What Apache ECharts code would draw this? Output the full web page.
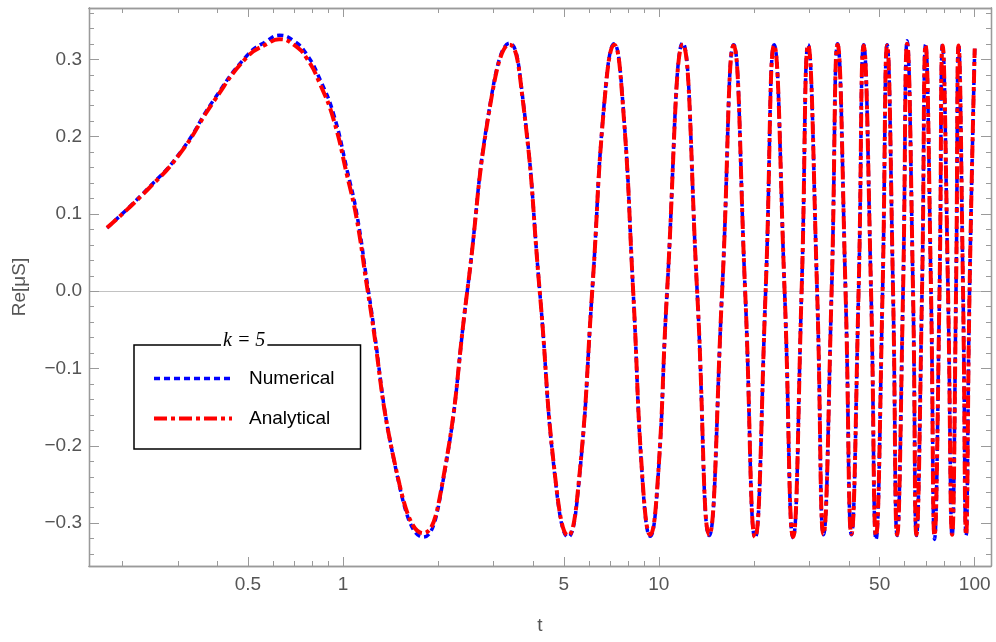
<!DOCTYPE html>
<html>
<head>
<meta charset="utf-8">
<script src="https://cdn.jsdelivr.net/npm/echarts@6/dist/echarts.min.js"></script>
<style>
html, body { margin: 0; padding: 0; background: #fff; }
#chart { width: 996px; height: 642px; }
</style>
</head>
<body>
<div id="chart"></div>
<script>
// values (t on a log axis)
var tValues = [0.179, 0.240, 0.306, 0.389, 0.497, 0.575, 0.628, 0.698, 0.769, 0.848,
    0.934, 1.030, 1.107, 1.198, 1.510, 1.795, 2.060, 2.474, 2.951, 3.367,
    3.702, 4.196, 4.726, 5.16, 5.568, 6.151, 6.743, 7.22, 7.664, 8.293,
    8.901, 9.39, 9.90, 10.62, 11.9, 13.22, 14.43, 15.86, 17.25, 18.76,
    20.17, 21.78, 23.17, 25.01, 26.6, 28.31, 29.69, 31.70, 33.2, 35.23,
    36.8, 39.00, 40.7, 42.89, 44.5, 46.97, 48.7, 51.08, 52.8, 55.14,
    56.8, 59.31, 61.1, 63.78, 65.4, 68.10, 69.9, 72.72, 74.6, 77.37,
    79.1, 82.32, 84.8, 87.26, 88.9, 91.84, 93.9, 96.3, 100];
var numerical = [0.082, 0.132, 0.180, 0.247, 0.305, 0.324, 0.331, 0.324, 0.306, 0.273,
    0.229, 0.157, 0.099, 0.006, -0.252, -0.318, -0.252, 0, 0.252, 0.321,
    0.252, 0, -0.252, -0.318, -0.252, 0, 0.252, 0.320, 0.252, 0,
    -0.252, -0.317, -0.252, 0, 0.321, 0, -0.316, 0, 0.319, 0,
    -0.319, 0, 0.319, 0, -0.319, 0, 0.319, 0, -0.315, 0,
    0.320, 0, -0.315, 0, 0.319, 0, -0.321, 0, 0.319, 0,
    -0.316, 0, 0.324, 0, -0.316, 0, 0.319, 0, -0.321, 0,
    0.319, 0, -0.316, 0, 0.319, 0, -0.316, 0, 0.314];
var analytical = [0.082, 0.131, 0.179, 0.245, 0.303, 0.320, 0.326, 0.319, 0.301, 0.267,
    0.222, 0.150, 0.092, 0, -0.250, -0.313, -0.250, 0, 0.250, 0.319,
    0.250, 0, -0.250, -0.316, -0.250, 0, 0.250, 0.319, 0.250, 0,
    -0.250, -0.315, -0.250, 0, 0.319, 0, -0.315, 0, 0.318, 0,
    -0.318, 0, 0.318, 0, -0.318, 0, 0.318, 0, -0.314, 0,
    0.319, 0, -0.314, 0, 0.318, 0, -0.316, 0, 0.318, 0,
    -0.315, 0, 0.320, 0, -0.315, 0, 0.318, 0, -0.316, 0,
    0.318, 0, -0.315, 0, 0.318, 0, -0.315, 0, 0.314];

var xMajorTicks = [0.5, 1, 5, 10, 50, 100];
var xMinorTicks = [0.2, 0.3, 0.4, 0.6, 0.7, 0.8, 0.9, 2, 3, 4, 6, 7, 8, 9,
    20, 30, 40, 60, 70, 80, 90];
var yMajorTicks = [-0.3, -0.2, -0.1, 0, 0.1, 0.2, 0.3];
var yMinorTicks = [-0.34, -0.32, -0.28, -0.26, -0.24, -0.22, -0.18, -0.16, -0.14, -0.12,
    -0.08, -0.06, -0.04, -0.02, 0.02, 0.04, 0.06, 0.08, 0.12, 0.14, 0.16, 0.18,
    0.22, 0.24, 0.26, 0.28, 0.32, 0.34, 0.36];

var X_MIN = 0.157, X_MAX = 112.6;
var Y_MIN = -0.3554, Y_MAX = 0.3664;
var frameColor = '#9a9a9a';
var labelColor = '#555';
var fontFamily = 'Liberation Sans, Arial, sans-serif';

function toPairs(ys) {
    return tValues.map(function (t, i) { return [t, ys[i]]; });
}

function xAxisFor(position, ticks, len, withLabels) {
    return {
        type: 'log',
        logBase: 10,
        position: position,
        min: X_MIN,
        max: X_MAX,
        axisLine: { show: true, onZero: false, lineStyle: { color: frameColor, width: 1.3 } },
        axisTick: { show: true, inside: true, length: len, customValues: ticks,
            lineStyle: { color: frameColor, width: 1 } },
        axisLabel: withLabels ? {
            show: true, customValues: ticks, margin: 9,
            color: labelColor, fontSize: 19, fontFamily: fontFamily,
            formatter: function (v) { return String(v); }
        } : { show: false },
        splitLine: { show: false },
        minorTick: { show: false }
    };
}

function yAxisFor(position, ticks, len, withLabels) {
    return {
        type: 'value',
        position: position,
        min: Y_MIN,
        max: Y_MAX,
        axisLine: { show: true, onZero: false, lineStyle: { color: frameColor, width: 1.3 } },
        axisTick: { show: true, inside: true, length: len, customValues: ticks,
            lineStyle: { color: frameColor, width: 1 } },
        axisLabel: withLabels ? {
            show: true, customValues: ticks, margin: 7,
            color: labelColor, fontSize: 19, fontFamily: fontFamily,
            formatter: function (v) {
                var s = Math.abs(v).toFixed(1);
                return (v < -1e-9 ? '\u2212' : '') + s;
            }
        } : { show: false },
        splitLine: { show: false }
    };
}

var chart = echarts.init(document.getElementById('chart'));

var xAxes = [
    xAxisFor('bottom', xMajorTicks, 9, true),
    xAxisFor('bottom', xMinorTicks, 5, false),
    xAxisFor('top', xMajorTicks, 9, false),
    xAxisFor('top', xMinorTicks, 5, false)
];
xAxes[0].name = 't';
xAxes[0].nameLocation = 'middle';
xAxes[0].nameGap = 50;
xAxes[0].nameTextStyle = { color: labelColor, fontSize: 19, fontFamily: fontFamily };

var yAxes = [
    yAxisFor('left', yMajorTicks, 10, true),
    yAxisFor('left', yMinorTicks, 5, false),
    yAxisFor('right', yMajorTicks, 10, false),
    yAxisFor('right', yMinorTicks, 5, false),
    {
        // only used for the zero line
        type: 'value', position: 'left', min: Y_MIN, max: Y_MAX,
        axisLine: { show: false, onZero: false },
        axisTick: { show: false, customValues: [0] },
        axisLabel: { show: false },
        splitLine: { show: true, lineStyle: { color: '#c2c2c2', width: 1 } }
    }
];
yAxes[0].name = 'Re[\u03bcS]';
yAxes[0].nameLocation = 'middle';
yAxes[0].nameGap = 60;
yAxes[0].nameTextStyle = { color: labelColor, fontSize: 19, fontFamily: fontFamily };

var option = {
    animation: false,
    backgroundColor: '#fff',
    grid: { left: 89, right: 5, top: 8, bottom: 76, containLabel: false },
    title: {
        text: 'k = 5',
        left: 221,
        top: 331,
        padding: [0, 2, 0, 2],
        backgroundColor: '#fff',
        textStyle: {
            fontFamily: 'Liberation Serif, Times New Roman, serif',
            fontStyle: 'italic',
            fontWeight: 'normal',
            fontSize: 20,
            color: '#000'
        }
    },
    legend: {
        orient: 'vertical',
        left: 134,
        top: 345,
        padding: [24, 26, 21, 18],
        itemGap: 21,
        itemWidth: 78,
        itemHeight: 20,
        borderColor: '#000',
        borderWidth: 1.5,
        backgroundColor: '#fff',
        itemStyle: { opacity: 0 },
        textStyle: { color: '#000', fontSize: 19, fontFamily: fontFamily, padding: [0, 0, 0, 12] },
        data: [
            { name: 'Numerical', lineStyle: { width: 3.5 } },
            { name: 'Analytical', lineStyle: { width: 4 } }
        ]
    },
    xAxis: xAxes,
    yAxis: yAxes,
    series: [
        {
            name: 'Numerical',
            type: 'line',
            xAxisIndex: 0,
            yAxisIndex: 0,
            data: toPairs(numerical),
            smooth: 0.5,
            showSymbol: false,
            symbol: 'none',
            lineStyle: { color: '#0000ff', width: 3.5, type: [6, 4] },
            itemStyle: { color: '#0000ff' },
            z: 3
        },
        {
            name: 'Analytical',
            type: 'line',
            xAxisIndex: 0,
            yAxisIndex: 0,
            data: toPairs(analytical),
            smooth: 0.5,
            showSymbol: false,
            symbol: 'none',
            lineStyle: { color: '#ff0000', width: 4, type: [13, 4, 4, 4] },
            itemStyle: { color: '#ff0000' },
            z: 4
        }
    ]
};

chart.setOption(option);
</script>
</body>
</html>
